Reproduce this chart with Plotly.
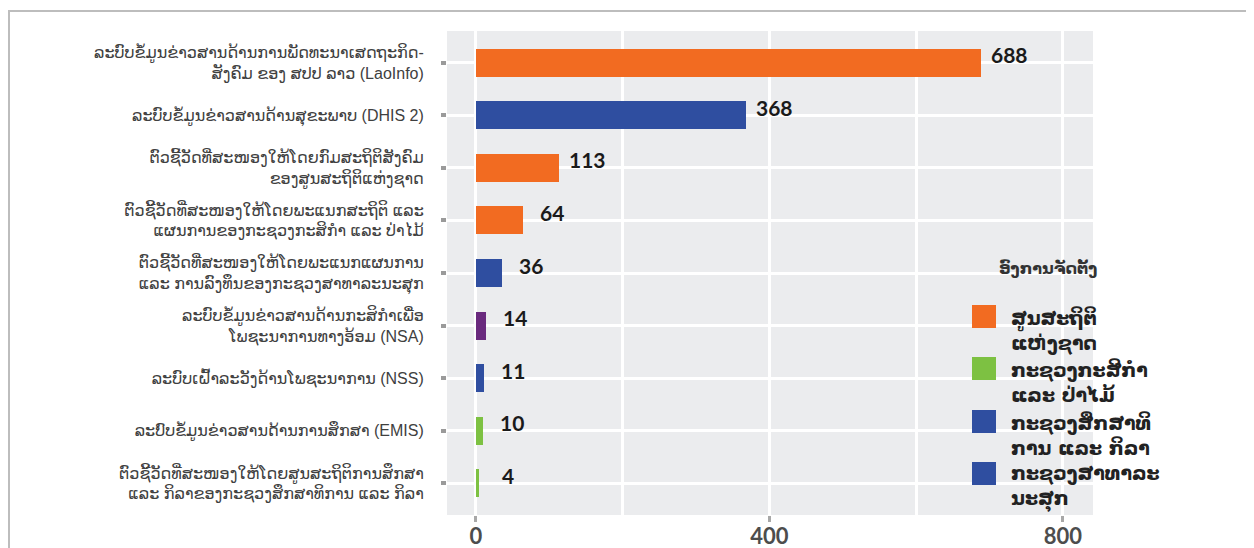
import plotly.graph_objects as go

# ---------------- data ----------------
categories = [
    "ລະບົບຂໍ້ມູນຂ່າວສານດ້ານການພັດທະນາເສດຖະກິດ-<br>ສັງຄົມ ຂອງ ສປປ ລາວ (LaoInfo)",
    "ລະບົບຂໍ້ມູນຂ່າວສານດ້ານສຸຂະພາບ (DHIS 2)",
    "ຕົວຊີ້ວັດທີ່ສະໜອງໃຫ້ໂດຍກົມສະຖິຕິສັງຄົມ<br>ຂອງສູນສະຖິຕິແຫ່ງຊາດ",
    "ຕົວຊີ້ວັດທີ່ສະໜອງໃຫ້ໂດຍພະແນກສະຖິຕິ ແລະ<br>ແຜນການຂອງກະຊວງກະສິກຳ ແລະ ປ່າໄມ້",
    "ຕົວຊີ້ວັດທີ່ສະໜອງໃຫ້ໂດຍພະແນກແຜນການ<br>ແລະ ການລົງທຶນຂອງກະຊວງສາທາລະນະສຸກ",
    "ລະບົບຂໍ້ມູນຂ່າວສານດ້ານກະສິກຳເພື່ອ<br>ໂພຊະນາການທາງອ້ອມ (NSA)",
    "ລະບົບເຝົ້າລະວັງດ້ານໂພຊະນາການ (NSS)",
    "ລະບົບຂໍ້ມູນຂ່າວສານດ້ານການສຶກສາ (EMIS)",
    "ຕົວຊີ້ວັດທີ່ສະໜອງໃຫ້ໂດຍສູນສະຖິຕິການສຶກສາ<br>ແລະ ກິລາຂອງກະຊວງສຶກສາທິການ ແລະ ກິລາ",
]
values = [688, 368, 113, 64, 36, 14, 11, 10, 4]
bar_groups = ["nsc", "health", "nsc", "nsc", "health", "other", "health", "agri", "agri"]

legend_title = "ອົງການຈັດຕັ້ງ"
legend_keys = ["nsc", "agri", "edu", "health"]
legend_labels = [
    "ສູນສະຖິຕິ<br>ແຫ່ງຊາດ",
    "ກະຊວງກະສິກຳ<br>ແລະ ປ່າໄມ້",
    "ກະຊວງສຶກສາທິ<br>ການ ແລະ ກິລາ",
    "ກະຊວງສາທາລະ<br>ນະສຸກ",
]
x_ticks = [0, 400, 800]

# ---------------- style ----------------
group_colors = {
    "nsc": "#F26B21",
    "agri": "#7DC142",
    "edu": "#2F4EA0",
    "health": "#2F4EA0",
    "other": "#6A2A7E",
}
PANEL = "#EBECEE"
OFF = 8                      # page body margin
W, H = 1254 - OFF, 548 - OFF
# plot area in page pixels
L, R, T, B = 447, 1093, 31, 515
PW, PH = R - L, B - T


def px_x(p):
    return (p - L) / PW


def px_y(p):
    return (B - p) / PH


fig = go.Figure()
fig.add_trace(go.Bar(
    x=values,
    y=categories,
    orientation="h",
    width=0.53,
    marker=dict(color=[group_colors[g] for g in bar_groups], line=dict(width=0)),
    hoverinfo="x+y",
    showlegend=False,
))

# value labels
for cat, v in zip(categories, values):
    fig.add_annotation(
        x=v, y=cat, xref="x", yref="y",
        text="<b>" + str(v) + "</b>", showarrow=False,
        xanchor="center", yanchor="middle",
        xshift=29, yshift=8,
        font=dict(family="Lato, Open Sans, sans-serif", size=21, color="#1a1a1a"),
    )

# outer border
fig.add_shape(
    type="rect", xref="paper", yref="paper",
    x0=px_x(OFF + 1), x1=px_x(1252), y0=px_y(575), y1=px_y(11),
    line=dict(color="#BDBDBD", width=2), fillcolor="rgba(0,0,0,0)", layer="below",
)

# manual legend
fig.add_annotation(
    x=px_x(997), y=px_y(268), xref="paper", yref="paper",
    text="<b>" + legend_title + "</b>", showarrow=False,
    xanchor="left", yanchor="middle",
    font=dict(family="DejaVu Sans, Noto Sans, sans-serif", size=16, color="#333333"),
)
sq_tops = [305, 357, 410, 462]
for key, lab, top in zip(legend_keys, legend_labels, sq_tops):
    fig.add_shape(
        type="rect", xref="paper", yref="paper",
        x0=px_x(972), x1=px_x(996), y0=px_y(top + 23), y1=px_y(top),
        line=dict(width=0), fillcolor=group_colors[key],
    )
    fig.add_annotation(
        x=px_x(1009), y=px_y(top + 25), xref="paper", yref="paper",
        text="<b>" + lab + "</b>", showarrow=False,
        xanchor="left", yanchor="middle", align="left",
        font=dict(family="DejaVu Sans, Noto Sans, sans-serif", size=19, color="#222222"),
    )

fig.update_layout(
    width=W, height=H,
    margin=dict(l=L - OFF, r=W - (R - OFF), t=T - OFF, b=H - (B - OFF), pad=0, autoexpand=False),
    paper_bgcolor="white",
    plot_bgcolor=PANEL,
    bargap=0,
    xaxis=dict(
        range=[-39.5, 841],
        tickvals=x_ticks,
        ticktext=["<b>" + str(t) + "</b>" for t in x_ticks],
        showgrid=True, gridcolor="white", gridwidth=3,
        minor=dict(dtick=200, tick0=0, showgrid=True, gridcolor="white", gridwidth=3, ticks=""),
        zeroline=False,
        ticks="outside", ticklen=6, tickwidth=3, tickcolor="#A8A8A8",
        tickfont=dict(family="Lato, Open Sans, sans-serif", size=22, color="#4D4D4D"),
        ticklabelstandoff=-4,
        automargin=False,
        fixedrange=True,
    ),
    yaxis=dict(
        type="category",
        categoryorder="array", categoryarray=categories,
        range=[8.6, -0.6],
        showgrid=True, gridcolor="white", gridwidth=3,
        zeroline=False,
        ticks="outside", ticklen=5, tickwidth=4, tickcolor="#9A9A9A",
        tickfont=dict(family="Liberation Sans, DejaVu Sans, sans-serif", size=16, color="#404040"),
        ticklabelstandoff=14,
        automargin=False,
    ),
)

fig.write_html("out.html")
